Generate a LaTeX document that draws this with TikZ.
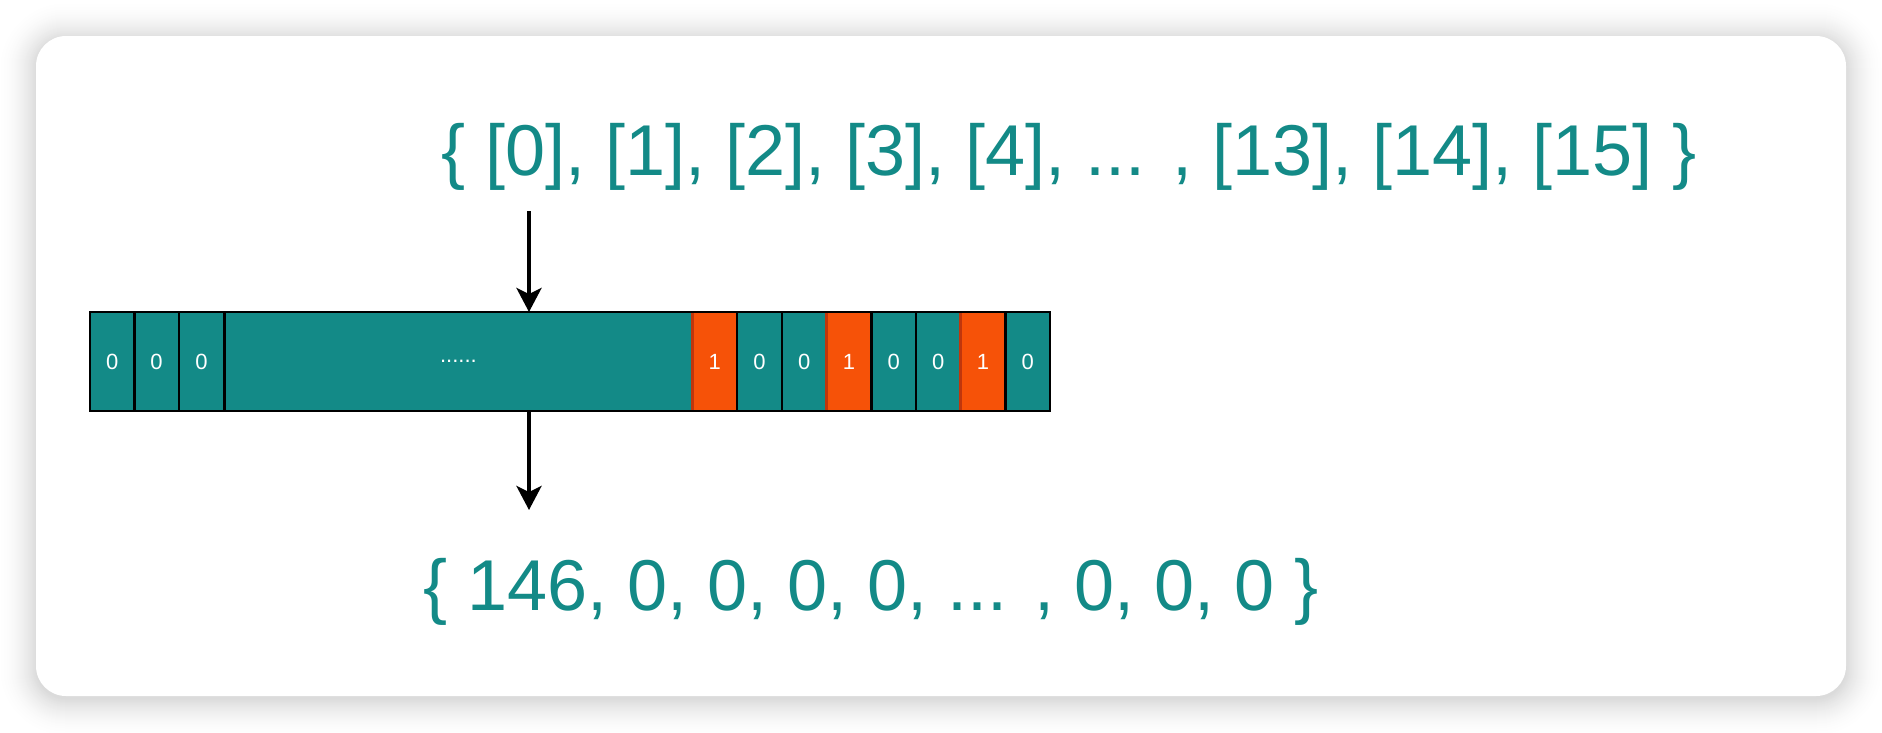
\documentclass[tikz,border=0pt]{standalone}
\usepackage{fontspec}
\setmainfont{Liberation Sans}
\usetikzlibrary{arrows.meta}
\definecolor{teal1}{HTML}{138A87}
\definecolor{orng}{HTML}{F65208}
\definecolor{orngb}{HTML}{C0360C}
\tikzset{
  cell/.style={draw=black, line width=2.5pt, fill=teal1, text=white, inner sep=0pt, outer sep=0pt, font=\fontsize{22}{26}\selectfont},
  onecell/.style={draw=orngb, line width=2.5pt, fill=orng, text=white, inner sep=0pt, outer sep=0pt, font=\fontsize{22}{26}\selectfont},
  bigtext/.style={text=teal1, inner sep=0pt, font=\fontsize{72}{86}\selectfont},
  arr/.style={line width=4pt, -{Stealth[width=25pt, length=24pt, inset=6pt]}},
}
\begin{document}
\begin{tikzpicture}[x=1pt, y=-1pt]
\useasboundingbox (0,0) rectangle (1882,732);
\fill[white] (0,0) rectangle (1882,732);
% shadow halo (solid grey rings, lightest outside)
\foreach \i in {40,39,...,0} {
  \pgfmathsetmacro{\g}{14*((40-\i)/40)*((40-\i)/40)}
  \fill[black!\g, rounded corners={30pt+\i pt}] ({36-\i},{36-\i+3}) rectangle ({1846+\i},{696+\i+3});
}
\fill[white, rounded corners=30pt] (36,36) rectangle (1846,696);
% cells
\def\ys{312}\def\ye{411}
\node[cell, minimum width=44.4pt, minimum height=99pt, anchor=north west] (c1) at (90,\ys) {0};
\node[cell, minimum width=44.4pt, minimum height=99pt, anchor=north west] (c2) at (134.4,\ys) {0};
\node[cell, minimum width=45.6pt, minimum height=99pt, anchor=north west] (c3) at (178.8,\ys) {0};
\node[cell, minimum width=468.1pt, minimum height=99pt, anchor=north west] (big) at (224.4,\ys) {......};
\node[onecell, minimum width=44.7pt, minimum height=99pt, anchor=north west] (b1) at (692.5,\ys) {1};
\node[cell, minimum width=44.7pt, minimum height=99pt, anchor=north west] (b2) at (737.2,\ys) {0};
\node[cell, minimum width=44.7pt, minimum height=99pt, anchor=north west] (b3) at (781.9,\ys) {0};
\node[onecell, minimum width=44.7pt, minimum height=99pt, anchor=north west] (b4) at (826.6,\ys) {1};
\node[cell, minimum width=44.7pt, minimum height=99pt, anchor=north west] (b5) at (871.3,\ys) {0};
\node[cell, minimum width=44.7pt, minimum height=99pt, anchor=north west] (b6) at (916.0,\ys) {0};
\node[onecell, minimum width=44.7pt, minimum height=99pt, anchor=north west] (b7) at (960.7,\ys) {1};
\node[cell, minimum width=44.7pt, minimum height=99pt, anchor=north west] (b8) at (1005.4,\ys) {0};
\draw[black, line width=2.5pt] (90,\ys) rectangle (1050,\ye);
% texts
\node[bigtext] (top) at (1069,157) {\{ [0], [1], [2], [3], [4], ... , [13], [14], [15] \}};
\node[bigtext] (bot) at (871,592) {\{ 146, 0, 0, 0, 0, ... , 0, 0, 0 \}};
% arrows
\coordinate (a1) at (529,211);
\coordinate (a2) at (529,312);
\coordinate (a3) at (529,412);
\coordinate (a4) at (529,510);
\draw[arr] (a1) -- (a2);
\draw[arr] (a3) -- (a4);
\end{tikzpicture}
\end{document}
